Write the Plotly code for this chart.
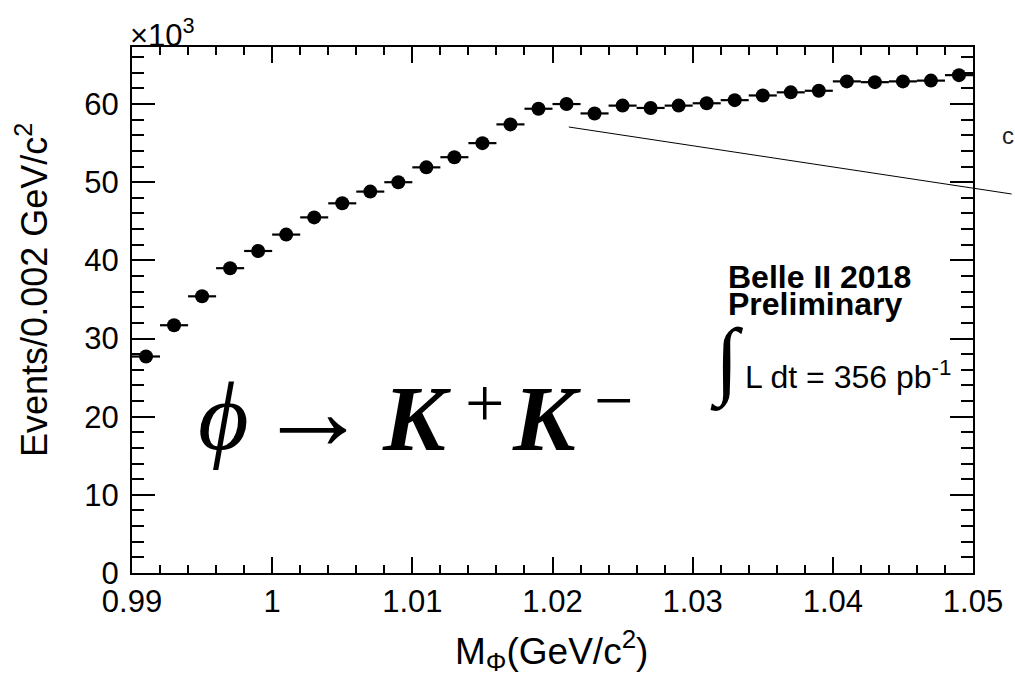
import plotly.graph_objects as go

# Bin centres (GeV/c^2) and counts (events per 0.002 GeV/c^2)
mass = [0.991, 0.993, 0.995, 0.997, 0.999, 1.001, 1.003, 1.005, 1.007, 1.009,
        1.011, 1.013, 1.015, 1.017, 1.019, 1.021, 1.023, 1.025, 1.027, 1.029,
        1.031, 1.033, 1.035, 1.037, 1.039, 1.041, 1.043, 1.045, 1.047, 1.049]
events = [27700, 31700, 35400, 39000, 41200, 43300, 45500, 47300, 48800, 50000,
          51900, 53200, 55000, 57400, 59400, 60000, 58800, 59800, 59500, 59800,
          60100, 60500, 61100, 61500, 61700, 62900, 62800, 62900, 63000, 63700]
half_bin = [0.001] * len(mass)

x_tickvals = [0.99, 1.0, 1.01, 1.02, 1.03, 1.04, 1.05]
x_ticktext = ["0.99", "1", "1.01", "1.02", "1.03", "1.04", "1.05"]
y_tickvals = [0, 10000, 20000, 30000, 40000, 50000, 60000]
y_ticktext = ["0", "10", "20", "30", "40", "50", "60"]

W, H = 1015, 676
L, R, T, B = 132, 34, 47, 103
pw, ph = W - L - R, H - T - B

def px(x):
    return (x - L) / pw

def py(y):
    return (H - B - y) / ph

FONT = "Liberation Sans, Arial, Helvetica, sans-serif"
SERIF = "Liberation Serif, Times New Roman, serif"

fig = go.Figure()
fig.add_trace(go.Scatter(
    x=mass, y=events, mode="markers",
    marker=dict(color="black", size=14, symbol="circle"),
    error_x=dict(type="data", array=half_bin, symmetric=True,
                 thickness=2.2, width=0, color="black"),
    showlegend=False, hoverinfo="x+y",
))

axis_common = dict(
    showgrid=False, zeroline=False, showline=True, linecolor="black",
    linewidth=2, ticks="inside", tickcolor="black", tickwidth=2,
    mirror="ticks", tickfont=dict(family=FONT, size=31, color="black"),
)

fig.update_xaxes(
    range=[0.99, 1.05], tickmode="array", tickvals=x_tickvals,
    ticktext=x_ticktext, ticklen=16,
    minor=dict(dtick=0.002, ticks="inside", ticklen=8, tickwidth=2,
               tickcolor="black", showgrid=False),
    **axis_common,
)
fig.update_yaxes(
    range=[0, 67300], tickmode="array", tickvals=y_tickvals,
    ticktext=y_ticktext, ticklen=23, ticklabelstandoff=5,
    minor=dict(dtick=2000, ticks="inside", ticklen=12, tickwidth=2,
               tickcolor="black", showgrid=False),
    **axis_common,
)

def ann(x, y, text, size, family=FONT, xanchor="left", yanchor="middle",
        angle=0, color="black"):
    return dict(x=px(x), y=py(y), xref="paper", yref="paper",
                xanchor=xanchor, yanchor=yanchor, text=text, showarrow=False,
                textangle=angle, font=dict(family=family, size=size,
                                           color=color))

annotations = [
    ann(128, 33, "×10<sup>3</sup>", 31),
    ann(31, 290, "Events/0.002 GeV/c<sup>2</sup>", 36, xanchor="center",
        angle=-90),
    ann(555, 650, "M<sub>Φ</sub>(GeV/c<sup>2</sup>)", 37, xanchor="center"),
    # decay label, built from separate glyph groups
    ann(197, 416, "<i>ϕ</i>", 98, family=SERIF),
    ann(256, 411, "→", 112, family=SERIF),
    ann(382, 418, "<b><i>K</i></b>", 94, family=SERIF),
    ann(466, 403, "+", 70, family=SERIF),
    ann(514, 418, "<b><i>K</i></b>", 94, family=SERIF),
    ann(596, 400, "−", 70, family=SERIF),
    # Belle II labels
    ann(732, 277, "<b>Belle II 2018</b>", 32),
    ann(732, 304, "<b>Preliminary</b>", 32),
    ann(713, 361, "∫", 86, family=SERIF),
    ann(749, 375, "L dt = 356 pb<sup>-1</sup>", 32),
    # clipped neighbouring text at right edge
    ann(1008, 136, "c", 24, color="#222"),
]

shapes = [
    dict(type="line", xref="paper", yref="paper",
         x0=px(573), y0=py(127), x1=px(1020), y1=py(194),
         line=dict(color="black", width=1)),
]

fig.update_layout(
    width=W, height=H,
    margin=dict(l=L, r=R, t=T, b=B),
    paper_bgcolor="white", plot_bgcolor="white",
    annotations=annotations, shapes=shapes,
    font=dict(family=FONT, color="black"),
)

fig.write_html("out.html")
